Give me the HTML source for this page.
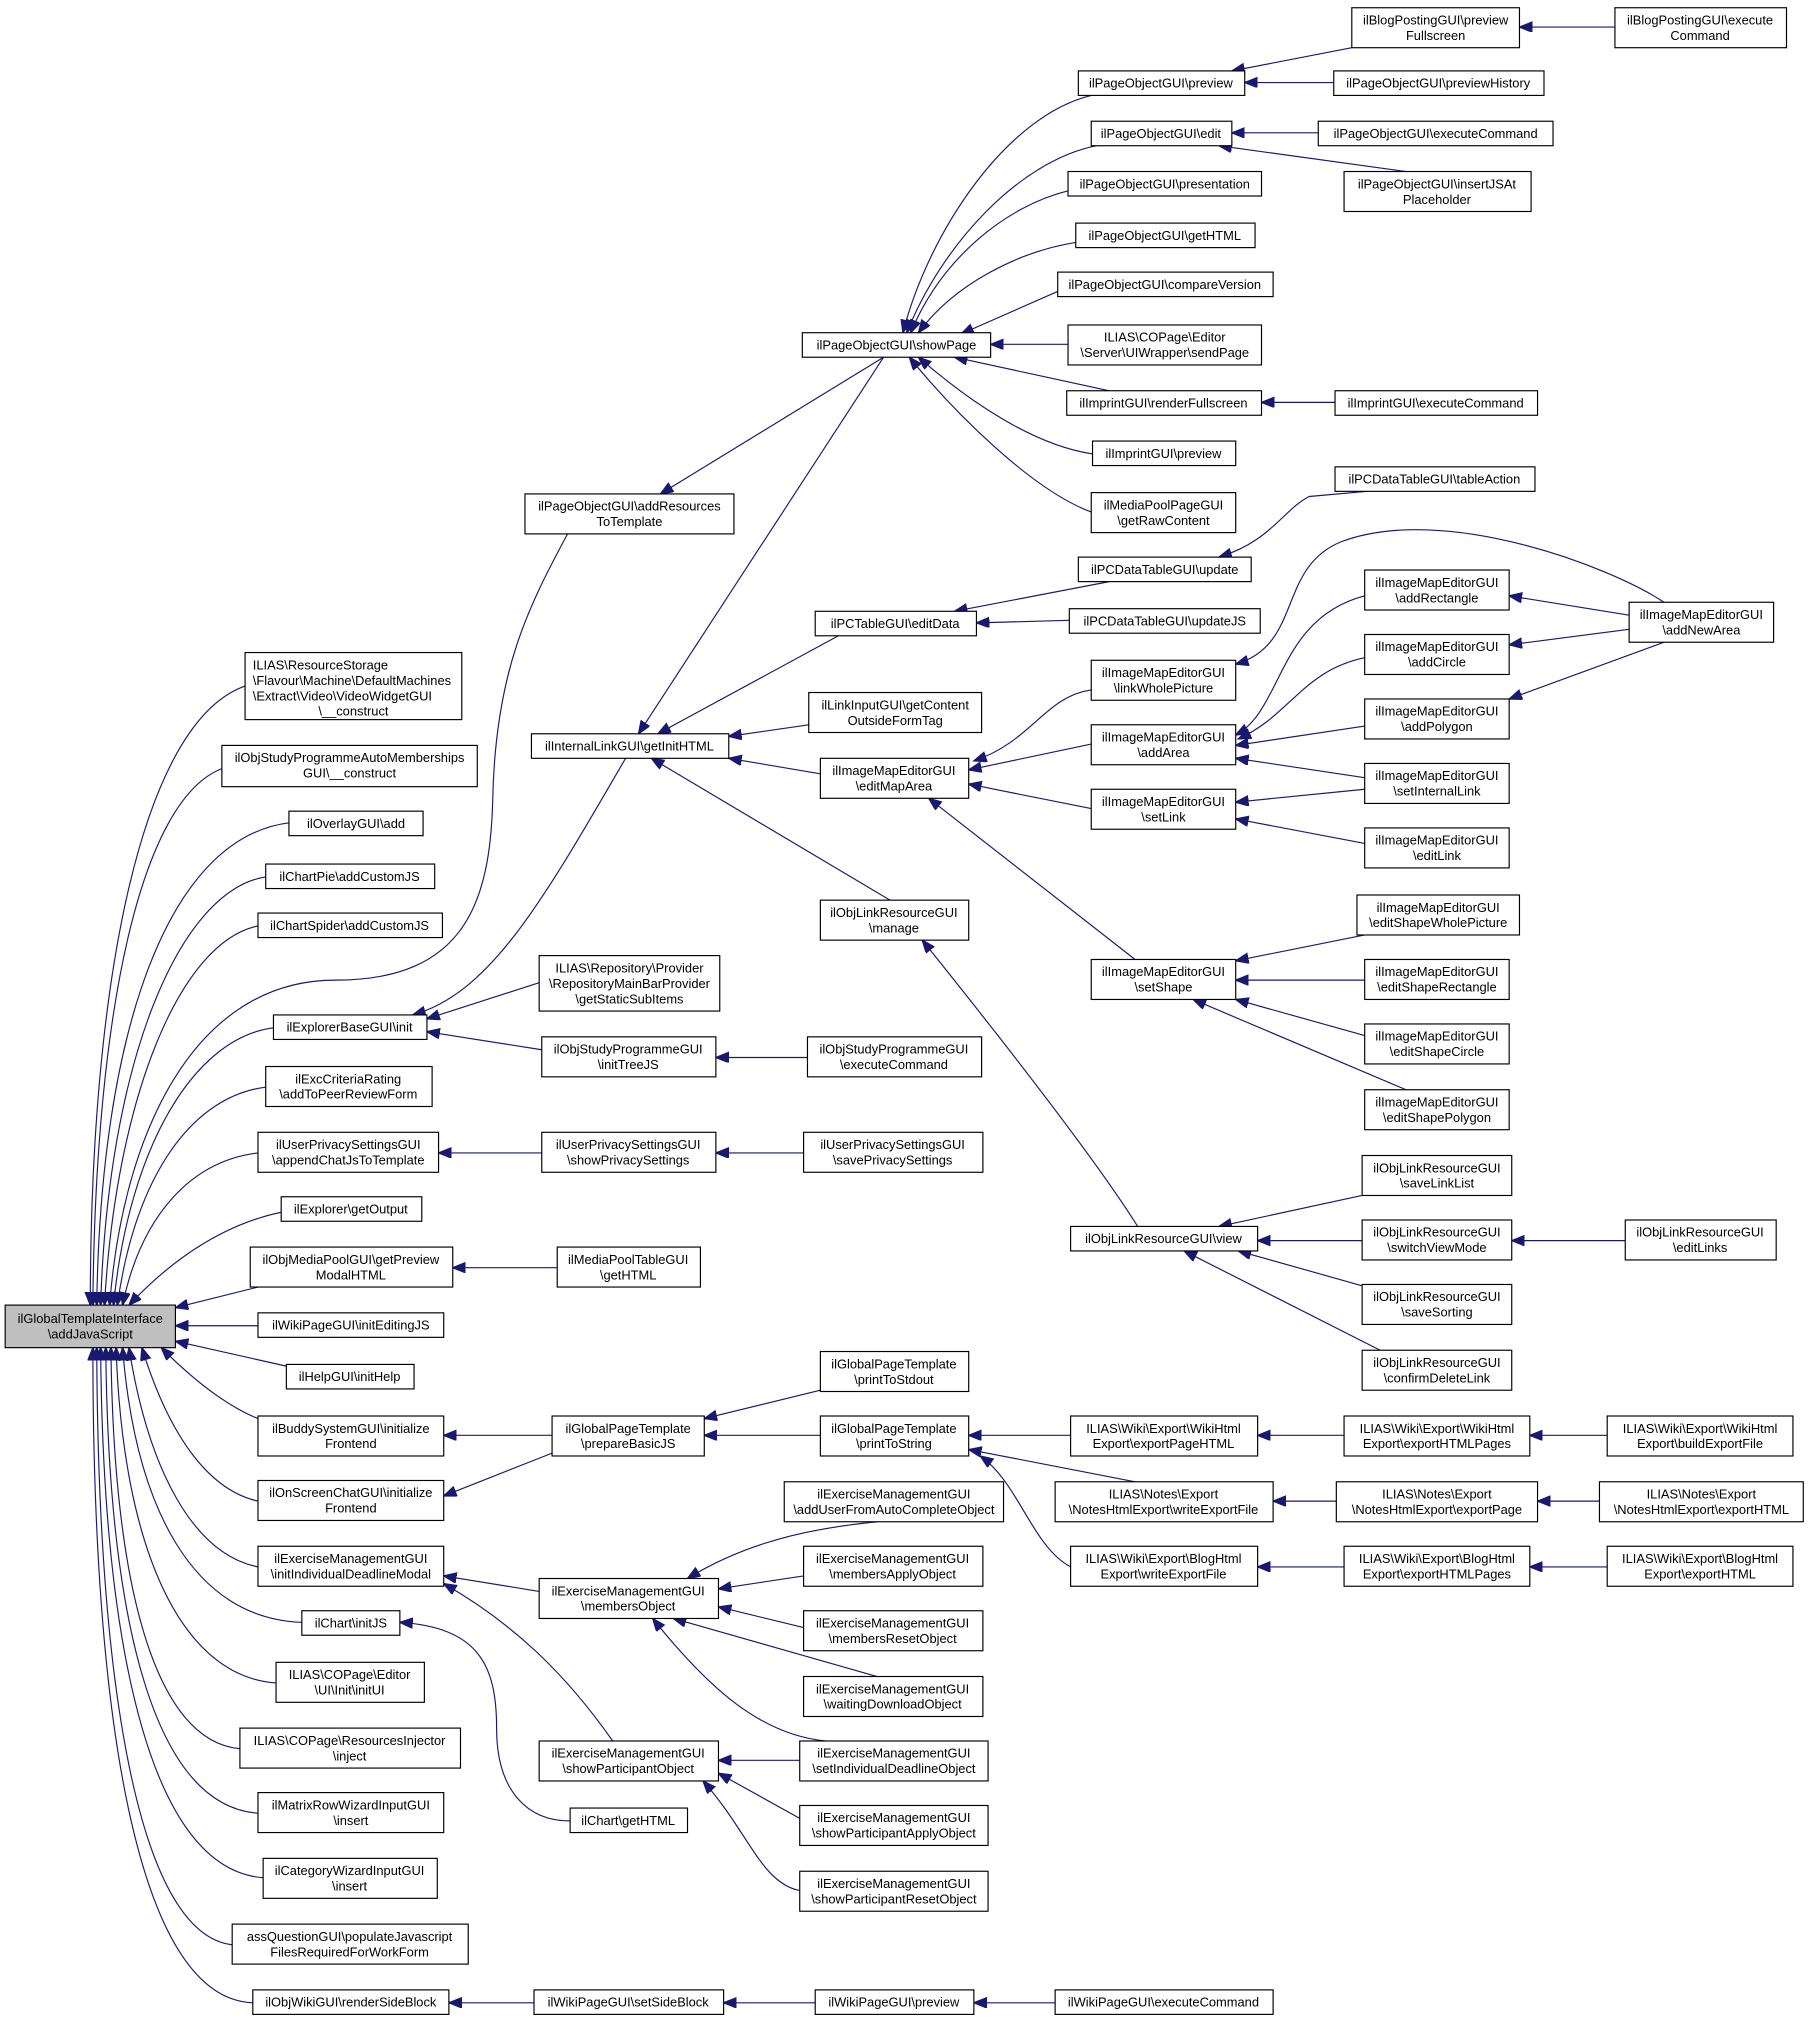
<!DOCTYPE html>
<html><head><meta charset="utf-8"><style>
html,body{margin:0;padding:0;background:#fff;}
svg{display:block;}
text{font-family:"Liberation Sans",Arial,sans-serif;font-size:10px;fill:#000;}
.n{fill:#fff;stroke:#000;stroke-width:0.9;}
.r{fill:#bfbfbf;stroke:#000;stroke-width:0.9;}
.e{fill:none;stroke:#191970;stroke-width:0.9;marker-start:url(#a);}
</style></head><body>
<svg width="1811" height="2026" viewBox="0 0 1404 1571" preserveAspectRatio="none" xmlns="http://www.w3.org/2000/svg">
<defs><marker id="a" markerUnits="userSpaceOnUse" markerWidth="12" markerHeight="10" refX="10" refY="4" orient="auto-start-reverse"><path d="M0,0 L10,4 L0,8 z" fill="#191970" stroke="#191970"/></marker></defs>

<!-- edges to root (upper) -->
<path class="e" d="M70,1012 C70,760 110,560 190,532"/>
<path class="e" d="M72,1012 C74,780 110,620 172,596"/>
<path class="e" d="M75,1012 C78,800 130,650 224,638"/>
<path class="e" d="M78,1012 C84,820 140,690 206,680"/>
<path class="e" d="M81,1012 C90,850 140,730 200,718"/>
<path class="e" d="M85,1012 C95,880 150,760 260,760 C360,760 380,700 382,620 C384,520 410,470 440,414"/>
<path class="e" d="M88,1012 C100,890 150,805 212,797"/>
<path class="e" d="M91,1012 C105,910 150,850 206,843"/>
<path class="e" d="M95,1012 C110,940 150,900 200,894"/>
<path class="e" d="M100,1012 C130,980 170,950 218,940"/>
<path class="e" d="M136,1014 L200,998"/>
<path class="e" d="M136,1028 L200,1028"/>
<path class="e" d="M136,1040 L225,1060"/>
<!-- edges to root (lower) -->
<path class="e" d="M125,1045 C150,1070 175,1090 200,1100"/>
<path class="e" d="M110,1045 C130,1110 160,1155 200,1164"/>
<path class="e" d="M100,1045 C115,1140 150,1205 200,1215"/>
<path class="e" d="M95,1045 C105,1170 150,1255 234,1258"/>
<path class="e" d="M90,1045 C95,1200 140,1300 214,1305"/>
<path class="e" d="M86,1045 C88,1230 120,1350 186,1356"/>
<path class="e" d="M82,1045 C84,1260 120,1400 200,1406"/>
<path class="e" d="M78,1045 C80,1290 120,1450 204,1456"/>
<path class="e" d="M75,1045 C76,1320 110,1500 180,1508"/>
<path class="e" d="M72,1045 C72,1350 110,1550 196,1553"/>

<!-- col2-3 -->
<path class="e" d="M320,787 C380,770 420,700 485,588"/>
<path class="e" d="M331,790 L418,762"/>
<path class="e" d="M331,800 L420,814"/>
<path class="e" d="M512,383 L685,277"/>
<path class="e" d="M340,894 L420,894"/>
<path class="e" d="M351,983 L432,983"/>
<path class="e" d="M344,1113 L428,1113"/>
<path class="e" d="M344,1160 L430,1126"/>
<path class="e" d="M344,1222 L418,1234"/>
<path class="e" d="M344,1228 C400,1260 440,1300 475,1350"/>
<path class="e" d="M310,1258 C370,1262 385,1290 385,1340 C385,1390 410,1412 442,1412"/>
<path class="e" d="M348,1553 L414,1553"/>

<!-- getInitHTML -->
<path class="e" d="M495,569 L685,277"/>
<path class="e" d="M510,569 L650,493"/>
<path class="e" d="M565,571 L627,562"/>
<path class="e" d="M565,588 L636,600"/>
<path class="e" d="M505,588 L690,698"/>

<!-- showPage -->
<path class="e" d="M700,258 C720,180 780,90 846,74"/>
<path class="e" d="M703,258 C730,190 790,125 850,113"/>
<path class="e" d="M706,258 C730,200 780,160 828,148"/>
<path class="e" d="M712,258 C740,220 790,195 834,188"/>
<path class="e" d="M745,259 L820,226"/>
<path class="e" d="M768,267 L828,267"/>
<path class="e" d="M740,277 L860,303"/>
<path class="e" d="M712,277 C750,310 800,345 847,352"/>
<path class="e" d="M705,277 C740,320 800,380 846,397"/>

<path class="e" d="M955,55 L1048,37"/>
<path class="e" d="M965,64 L1034,64"/>
<path class="e" d="M1178,21 L1252,21"/>
<path class="e" d="M955,103 L1022,103"/>
<path class="e" d="M945,113 L1090,133"/>
<path class="e" d="M978,312 L1035,312"/>
<path class="e" d="M740,474 L860,451"/>
<path class="e" d="M757,483 L829,481"/>
<path class="e" d="M945,432 C985,420 995,395 1015,385 L1060,381"/>

<path class="e" d="M755,590 C800,575 810,540 846,535"/>
<path class="e" d="M751,597 L846,577"/>
<path class="e" d="M751,608 L846,627"/>
<path class="e" d="M720,619 L880,744"/>
<path class="e" d="M715,729 C780,810 850,900 882,951"/>

<path class="e" d="M958,515 C1010,500 990,440 1040,420 C1120,390 1250,440 1290,467"/>
<path class="e" d="M958,570 C995,550 990,480 1058,462"/>
<path class="e" d="M960,573 C1000,555 1010,520 1058,510"/>
<path class="e" d="M958,578 L1058,563"/>
<path class="e" d="M958,588 L1058,603"/>
<path class="e" d="M958,622 L1058,612"/>
<path class="e" d="M958,635 L1058,654"/>
<path class="e" d="M1170,462 L1263,477"/>
<path class="e" d="M1170,500 L1263,488"/>
<path class="e" d="M1170,542 L1290,498"/>
<path class="e" d="M958,745 L1058,725"/>
<path class="e" d="M958,760 L1058,760"/>
<path class="e" d="M958,775 L1058,803"/>
<path class="e" d="M925,775 L1090,845"/>

<path class="e" d="M945,951 L1056,927"/>
<path class="e" d="M975,962 L1056,962"/>
<path class="e" d="M960,970 L1056,997"/>
<path class="e" d="M918,970 L1070,1047"/>
<path class="e" d="M1172,962 L1260,962"/>

<path class="e" d="M555,820 L626,820"/>
<path class="e" d="M555,894 L623,894"/>
<path class="e" d="M546,1100 L636,1078"/>
<path class="e" d="M546,1113 L636,1113"/>
<path class="e" d="M751,1113 L830,1113"/>
<path class="e" d="M751,1124 L880,1149"/>
<path class="e" d="M760,1129 C790,1150 800,1199 830,1215"/>
<path class="e" d="M975,1113 L1042,1113"/>
<path class="e" d="M1186,1113 L1246,1113"/>
<path class="e" d="M987,1164 L1036,1164"/>
<path class="e" d="M1192,1164 L1240,1164"/>
<path class="e" d="M975,1215 L1042,1215"/>
<path class="e" d="M1186,1215 L1246,1215"/>

<path class="e" d="M533,1224 C580,1195 630,1185 680,1180"/>
<path class="e" d="M557,1232 L623,1222"/>
<path class="e" d="M557,1246 L623,1262"/>
<path class="e" d="M522,1255 L680,1300"/>
<path class="e" d="M506,1255 C550,1310 590,1345 640,1350"/>
<path class="e" d="M557,1365 L620,1365"/>
<path class="e" d="M557,1375 L620,1410"/>
<path class="e" d="M545,1381 C580,1420 590,1460 620,1466"/>
<path class="e" d="M561,1553 L632,1553"/>
<path class="e" d="M755,1553 L818,1553"/>

<!-- nodes -->
<rect class="r" x="4" y="1012" width="132" height="33"/><text text-anchor="middle" x="70" y="1026">ilGlobalTemplateInterface</text><text text-anchor="middle" x="70" y="1038">\addJavaScript</text>

<rect class="n" x="190" y="506" width="168" height="52"/><text x="196" y="519">ILIAS\ResourceStorage</text><text x="196" y="531">\Flavour\Machine\DefaultMachines</text><text x="196" y="543">\Extract\Video\VideoWidgetGUI</text><text text-anchor="middle" x="274" y="555">\__construct</text>
<rect class="n" x="172" y="578" width="198" height="32"/><text text-anchor="middle" x="271" y="591">ilObjStudyProgrammeAutoMemberships</text><text text-anchor="middle" x="271" y="603">GUI\__construct</text>
<rect class="n" x="224" y="629" width="104" height="19"/><text text-anchor="middle" x="276" y="642">ilOverlayGUI\add</text>
<rect class="n" x="206" y="670" width="131" height="19"/><text text-anchor="middle" x="271" y="683">ilChartPie\addCustomJS</text>
<rect class="n" x="200" y="708" width="143" height="19"/><text text-anchor="middle" x="271" y="721">ilChartSpider\addCustomJS</text>
<rect class="n" x="212" y="787" width="119" height="19"/><text text-anchor="middle" x="271" y="800">ilExplorerBaseGUI\init</text>
<rect class="n" x="206" y="827" width="129" height="31"/><text text-anchor="middle" x="270" y="840">ilExcCriteriaRating</text><text text-anchor="middle" x="270" y="852">\addToPeerReviewForm</text>
<rect class="n" x="200" y="878" width="140" height="31"/><text text-anchor="middle" x="270" y="891">ilUserPrivacySettingsGUI</text><text text-anchor="middle" x="270" y="903">\appendChatJsToTemplate</text>
<rect class="n" x="218" y="928" width="109" height="19"/><text text-anchor="middle" x="272" y="941">ilExplorer\getOutput</text>
<rect class="n" x="194" y="967" width="157" height="31"/><text text-anchor="middle" x="272" y="980">ilObjMediaPoolGUI\getPreview</text><text text-anchor="middle" x="272" y="992">ModalHTML</text>
<rect class="n" x="200" y="1018" width="144" height="19"/><text text-anchor="middle" x="272" y="1031">ilWikiPageGUI\initEditingJS</text>
<rect class="n" x="222" y="1058" width="99" height="19"/><text text-anchor="middle" x="271" y="1071">ilHelpGUI\initHelp</text>
<rect class="n" x="200" y="1098" width="144" height="31"/><text text-anchor="middle" x="272" y="1111">ilBuddySystemGUI\initialize</text><text text-anchor="middle" x="272" y="1123">Frontend</text>
<rect class="n" x="200" y="1148" width="144" height="31"/><text text-anchor="middle" x="272" y="1161">ilOnScreenChatGUI\initialize</text><text text-anchor="middle" x="272" y="1173">Frontend</text>
<rect class="n" x="200" y="1199" width="144" height="31"/><text text-anchor="middle" x="272" y="1212">ilExerciseManagementGUI</text><text text-anchor="middle" x="272" y="1224">\initIndividualDeadlineModal</text>
<rect class="n" x="234" y="1249" width="76" height="19"/><text text-anchor="middle" x="272" y="1262">ilChart\initJS</text>
<rect class="n" x="214" y="1289" width="115" height="31"/><text text-anchor="middle" x="271" y="1302">ILIAS\COPage\Editor</text><text text-anchor="middle" x="271" y="1314">\UI\Init\initUI</text>
<rect class="n" x="186" y="1340" width="171" height="31"/><text text-anchor="middle" x="271" y="1353">ILIAS\COPage\ResourcesInjector</text><text text-anchor="middle" x="271" y="1365">\inject</text>
<rect class="n" x="200" y="1390" width="144" height="31"/><text text-anchor="middle" x="272" y="1403">ilMatrixRowWizardInputGUI</text><text text-anchor="middle" x="272" y="1415">\insert</text>
<rect class="n" x="204" y="1441" width="135" height="31"/><text text-anchor="middle" x="271" y="1454">ilCategoryWizardInputGUI</text><text text-anchor="middle" x="271" y="1466">\insert</text>
<rect class="n" x="180" y="1492" width="183" height="31"/><text text-anchor="middle" x="271" y="1505">assQuestionGUI\populateJavascript</text><text text-anchor="middle" x="271" y="1517">FilesRequiredForWorkForm</text>
<rect class="n" x="196" y="1543" width="152" height="19"/><text text-anchor="middle" x="272" y="1556">ilObjWikiGUI\renderSideBlock</text>

<rect class="n" x="407" y="383" width="162" height="31"/><text text-anchor="middle" x="488" y="396">ilPageObjectGUI\addResources</text><text text-anchor="middle" x="488" y="408">ToTemplate</text>
<rect class="n" x="412" y="569" width="153" height="19"/><text text-anchor="middle" x="488" y="582">ilInternalLinkGUI\getInitHTML</text>
<rect class="n" x="418" y="741" width="140" height="43"/><text text-anchor="middle" x="488" y="754">ILIAS\Repository\Provider</text><text text-anchor="middle" x="488" y="766">\RepositoryMainBarProvider</text><text text-anchor="middle" x="488" y="778">\getStaticSubItems</text>
<rect class="n" x="420" y="804" width="135" height="31"/><text text-anchor="middle" x="487" y="817">ilObjStudyProgrammeGUI</text><text text-anchor="middle" x="487" y="829">\initTreeJS</text>
<rect class="n" x="420" y="878" width="135" height="31"/><text text-anchor="middle" x="487" y="891">ilUserPrivacySettingsGUI</text><text text-anchor="middle" x="487" y="903">\showPrivacySettings</text>
<rect class="n" x="432" y="967" width="111" height="31"/><text text-anchor="middle" x="487" y="980">ilMediaPoolTableGUI</text><text text-anchor="middle" x="487" y="992">\getHTML</text>
<rect class="n" x="428" y="1098" width="118" height="31"/><text text-anchor="middle" x="487" y="1111">ilGlobalPageTemplate</text><text text-anchor="middle" x="487" y="1123">\prepareBasicJS</text>
<rect class="n" x="418" y="1224" width="139" height="31"/><text text-anchor="middle" x="487" y="1237">ilExerciseManagementGUI</text><text text-anchor="middle" x="487" y="1249">\membersObject</text>
<rect class="n" x="418" y="1350" width="139" height="31"/><text text-anchor="middle" x="487" y="1363">ilExerciseManagementGUI</text><text text-anchor="middle" x="487" y="1375">\showParticipantObject</text>
<rect class="n" x="442" y="1402" width="91" height="19"/><text text-anchor="middle" x="487" y="1415">ilChart\getHTML</text>
<rect class="n" x="414" y="1543" width="147" height="19"/><text text-anchor="middle" x="487" y="1556">ilWikiPageGUI\setSideBlock</text>

<rect class="n" x="622" y="258" width="146" height="19"/><text text-anchor="middle" x="695" y="271">ilPageObjectGUI\showPage</text>
<rect class="n" x="632" y="474" width="125" height="19"/><text text-anchor="middle" x="694" y="487">ilPCTableGUI\editData</text>
<rect class="n" x="627" y="537" width="134" height="31"/><text text-anchor="middle" x="694" y="550">ilLinkInputGUI\getContent</text><text text-anchor="middle" x="694" y="562">OutsideFormTag</text>
<rect class="n" x="636" y="588" width="115" height="31"/><text text-anchor="middle" x="693" y="601">ilImageMapEditorGUI</text><text text-anchor="middle" x="693" y="613">\editMapArea</text>
<rect class="n" x="636" y="698" width="115" height="31"/><text text-anchor="middle" x="693" y="711">ilObjLinkResourceGUI</text><text text-anchor="middle" x="693" y="723">\manage</text>
<rect class="n" x="626" y="804" width="135" height="31"/><text text-anchor="middle" x="693" y="817">ilObjStudyProgrammeGUI</text><text text-anchor="middle" x="693" y="829">\executeCommand</text>
<rect class="n" x="623" y="878" width="139" height="31"/><text text-anchor="middle" x="692" y="891">ilUserPrivacySettingsGUI</text><text text-anchor="middle" x="692" y="903">\savePrivacySettings</text>
<rect class="n" x="636" y="1048" width="115" height="31"/><text text-anchor="middle" x="693" y="1061">ilGlobalPageTemplate</text><text text-anchor="middle" x="693" y="1073">\printToStdout</text>
<rect class="n" x="636" y="1098" width="115" height="31"/><text text-anchor="middle" x="693" y="1111">ilGlobalPageTemplate</text><text text-anchor="middle" x="693" y="1123">\printToString</text>
<rect class="n" x="608" y="1149" width="170" height="31"/><text text-anchor="middle" x="693" y="1162">ilExerciseManagementGUI</text><text text-anchor="middle" x="693" y="1174">\addUserFromAutoCompleteObject</text>
<rect class="n" x="623" y="1199" width="139" height="31"/><text text-anchor="middle" x="692" y="1212">ilExerciseManagementGUI</text><text text-anchor="middle" x="692" y="1224">\membersApplyObject</text>
<rect class="n" x="623" y="1249" width="139" height="31"/><text text-anchor="middle" x="692" y="1262">ilExerciseManagementGUI</text><text text-anchor="middle" x="692" y="1274">\membersResetObject</text>
<rect class="n" x="623" y="1300" width="139" height="31"/><text text-anchor="middle" x="692" y="1313">ilExerciseManagementGUI</text><text text-anchor="middle" x="692" y="1325">\waitingDownloadObject</text>
<rect class="n" x="620" y="1350" width="146" height="31"/><text text-anchor="middle" x="693" y="1363">ilExerciseManagementGUI</text><text text-anchor="middle" x="693" y="1375">\setIndividualDeadlineObject</text>
<rect class="n" x="620" y="1400" width="146" height="31"/><text text-anchor="middle" x="693" y="1413">ilExerciseManagementGUI</text><text text-anchor="middle" x="693" y="1425">\showParticipantApplyObject</text>
<rect class="n" x="620" y="1451" width="146" height="31"/><text text-anchor="middle" x="693" y="1464">ilExerciseManagementGUI</text><text text-anchor="middle" x="693" y="1476">\showParticipantResetObject</text>
<rect class="n" x="632" y="1543" width="123" height="19"/><text text-anchor="middle" x="693" y="1556">ilWikiPageGUI\preview</text>

<rect class="n" x="836" y="55" width="129" height="19"/><text text-anchor="middle" x="900" y="68">ilPageObjectGUI\preview</text>
<rect class="n" x="846" y="94" width="109" height="19"/><text text-anchor="middle" x="900" y="107">ilPageObjectGUI\edit</text>
<rect class="n" x="828" y="133" width="150" height="19"/><text text-anchor="middle" x="903" y="146">ilPageObjectGUI\presentation</text>
<rect class="n" x="834" y="173" width="139" height="19"/><text text-anchor="middle" x="903" y="186">ilPageObjectGUI\getHTML</text>
<rect class="n" x="820" y="211" width="167" height="19"/><text text-anchor="middle" x="903" y="224">ilPageObjectGUI\compareVersion</text>
<rect class="n" x="828" y="252" width="150" height="31"/><text text-anchor="middle" x="903" y="265">ILIAS\COPage\Editor</text><text text-anchor="middle" x="903" y="277">\Server\UIWrapper\sendPage</text>
<rect class="n" x="827" y="303" width="151" height="19"/><text text-anchor="middle" x="902" y="316">ilImprintGUI\renderFullscreen</text>
<rect class="n" x="847" y="342" width="111" height="19"/><text text-anchor="middle" x="902" y="355">ilImprintGUI\preview</text>
<rect class="n" x="846" y="382" width="112" height="31"/><text text-anchor="middle" x="902" y="395">ilMediaPoolPageGUI</text><text text-anchor="middle" x="902" y="407">\getRawContent</text>
<rect class="n" x="836" y="432" width="134" height="19"/><text text-anchor="middle" x="903" y="445">ilPCDataTableGUI\update</text>
<rect class="n" x="829" y="472" width="148" height="19"/><text text-anchor="middle" x="903" y="485">ilPCDataTableGUI\updateJS</text>
<rect class="n" x="846" y="512" width="112" height="31"/><text text-anchor="middle" x="902" y="525">ilImageMapEditorGUI</text><text text-anchor="middle" x="902" y="537">\linkWholePicture</text>
<rect class="n" x="846" y="562" width="112" height="31"/><text text-anchor="middle" x="902" y="575">ilImageMapEditorGUI</text><text text-anchor="middle" x="902" y="587">\addArea</text>
<rect class="n" x="846" y="612" width="112" height="31"/><text text-anchor="middle" x="902" y="625">ilImageMapEditorGUI</text><text text-anchor="middle" x="902" y="637">\setLink</text>
<rect class="n" x="846" y="744" width="112" height="31"/><text text-anchor="middle" x="902" y="757">ilImageMapEditorGUI</text><text text-anchor="middle" x="902" y="769">\setShape</text>
<rect class="n" x="830" y="951" width="145" height="19"/><text text-anchor="middle" x="902" y="964">ilObjLinkResourceGUI\view</text>
<rect class="n" x="830" y="1098" width="145" height="31"/><text text-anchor="middle" x="902" y="1111">ILIAS\Wiki\Export\WikiHtml</text><text text-anchor="middle" x="902" y="1123">Export\exportPageHTML</text>
<rect class="n" x="818" y="1149" width="169" height="31"/><text text-anchor="middle" x="902" y="1162">ILIAS\Notes\Export</text><text text-anchor="middle" x="902" y="1174">\NotesHtmlExport\writeExportFile</text>
<rect class="n" x="830" y="1199" width="145" height="31"/><text text-anchor="middle" x="902" y="1212">ILIAS\Wiki\Export\BlogHtml</text><text text-anchor="middle" x="902" y="1224">Export\writeExportFile</text>
<rect class="n" x="818" y="1543" width="169" height="19"/><text text-anchor="middle" x="902" y="1556">ilWikiPageGUI\executeCommand</text>

<rect class="n" x="1048" y="6" width="130" height="31"/><text text-anchor="middle" x="1113" y="19">ilBlogPostingGUI\preview</text><text text-anchor="middle" x="1113" y="31">Fullscreen</text>
<rect class="n" x="1034" y="55" width="163" height="19"/><text text-anchor="middle" x="1115" y="68">ilPageObjectGUI\previewHistory</text>
<rect class="n" x="1022" y="94" width="182" height="19"/><text text-anchor="middle" x="1113" y="107">ilPageObjectGUI\executeCommand</text>
<rect class="n" x="1042" y="133" width="145" height="31"/><text text-anchor="middle" x="1114" y="146">ilPageObjectGUI\insertJSAt</text><text text-anchor="middle" x="1114" y="158">Placeholder</text>
<rect class="n" x="1035" y="303" width="157" height="19"/><text text-anchor="middle" x="1113" y="316">ilImprintGUI\executeCommand</text>
<rect class="n" x="1035" y="362" width="155" height="19"/><text text-anchor="middle" x="1112" y="375">ilPCDataTableGUI\tableAction</text>
<rect class="n" x="1058" y="442" width="112" height="31"/><text text-anchor="middle" x="1114" y="455">ilImageMapEditorGUI</text><text text-anchor="middle" x="1114" y="467">\addRectangle</text>
<rect class="n" x="1058" y="492" width="112" height="31"/><text text-anchor="middle" x="1114" y="505">ilImageMapEditorGUI</text><text text-anchor="middle" x="1114" y="517">\addCircle</text>
<rect class="n" x="1058" y="542" width="112" height="31"/><text text-anchor="middle" x="1114" y="555">ilImageMapEditorGUI</text><text text-anchor="middle" x="1114" y="567">\addPolygon</text>
<rect class="n" x="1058" y="592" width="112" height="31"/><text text-anchor="middle" x="1114" y="605">ilImageMapEditorGUI</text><text text-anchor="middle" x="1114" y="617">\setInternalLink</text>
<rect class="n" x="1058" y="642" width="112" height="31"/><text text-anchor="middle" x="1114" y="655">ilImageMapEditorGUI</text><text text-anchor="middle" x="1114" y="667">\editLink</text>
<rect class="n" x="1052" y="694" width="126" height="31"/><text text-anchor="middle" x="1115" y="707">ilImageMapEditorGUI</text><text text-anchor="middle" x="1115" y="719">\editShapeWholePicture</text>
<rect class="n" x="1058" y="744" width="112" height="31"/><text text-anchor="middle" x="1114" y="757">ilImageMapEditorGUI</text><text text-anchor="middle" x="1114" y="769">\editShapeRectangle</text>
<rect class="n" x="1058" y="794" width="112" height="31"/><text text-anchor="middle" x="1114" y="807">ilImageMapEditorGUI</text><text text-anchor="middle" x="1114" y="819">\editShapeCircle</text>
<rect class="n" x="1058" y="845" width="112" height="31"/><text text-anchor="middle" x="1114" y="858">ilImageMapEditorGUI</text><text text-anchor="middle" x="1114" y="870">\editShapePolygon</text>
<rect class="n" x="1056" y="896" width="116" height="31"/><text text-anchor="middle" x="1114" y="909">ilObjLinkResourceGUI</text><text text-anchor="middle" x="1114" y="921">\saveLinkList</text>
<rect class="n" x="1056" y="946" width="116" height="31"/><text text-anchor="middle" x="1114" y="959">ilObjLinkResourceGUI</text><text text-anchor="middle" x="1114" y="971">\switchViewMode</text>
<rect class="n" x="1056" y="996" width="116" height="31"/><text text-anchor="middle" x="1114" y="1009">ilObjLinkResourceGUI</text><text text-anchor="middle" x="1114" y="1021">\saveSorting</text>
<rect class="n" x="1056" y="1047" width="116" height="31"/><text text-anchor="middle" x="1114" y="1060">ilObjLinkResourceGUI</text><text text-anchor="middle" x="1114" y="1072">\confirmDeleteLink</text>
<rect class="n" x="1042" y="1098" width="144" height="31"/><text text-anchor="middle" x="1114" y="1111">ILIAS\Wiki\Export\WikiHtml</text><text text-anchor="middle" x="1114" y="1123">Export\exportHTMLPages</text>
<rect class="n" x="1036" y="1149" width="156" height="31"/><text text-anchor="middle" x="1114" y="1162">ILIAS\Notes\Export</text><text text-anchor="middle" x="1114" y="1174">\NotesHtmlExport\exportPage</text>
<rect class="n" x="1042" y="1199" width="144" height="31"/><text text-anchor="middle" x="1114" y="1212">ILIAS\Wiki\Export\BlogHtml</text><text text-anchor="middle" x="1114" y="1224">Export\exportHTMLPages</text>

<rect class="n" x="1252" y="6" width="133" height="31"/><text text-anchor="middle" x="1318" y="19">ilBlogPostingGUI\execute</text><text text-anchor="middle" x="1318" y="31">Command</text>
<rect class="n" x="1263" y="467" width="112" height="31"/><text text-anchor="middle" x="1319" y="480">ilImageMapEditorGUI</text><text text-anchor="middle" x="1319" y="492">\addNewArea</text>
<rect class="n" x="1260" y="946" width="117" height="31"/><text text-anchor="middle" x="1318" y="959">ilObjLinkResourceGUI</text><text text-anchor="middle" x="1318" y="971">\editLinks</text>
<rect class="n" x="1246" y="1098" width="144" height="31"/><text text-anchor="middle" x="1318" y="1111">ILIAS\Wiki\Export\WikiHtml</text><text text-anchor="middle" x="1318" y="1123">Export\buildExportFile</text>
<rect class="n" x="1240" y="1149" width="158" height="31"/><text text-anchor="middle" x="1319" y="1162">ILIAS\Notes\Export</text><text text-anchor="middle" x="1319" y="1174">\NotesHtmlExport\exportHTML</text>
<rect class="n" x="1246" y="1199" width="144" height="31"/><text text-anchor="middle" x="1318" y="1212">ILIAS\Wiki\Export\BlogHtml</text><text text-anchor="middle" x="1318" y="1224">Export\exportHTML</text>
</svg>
</body></html>
